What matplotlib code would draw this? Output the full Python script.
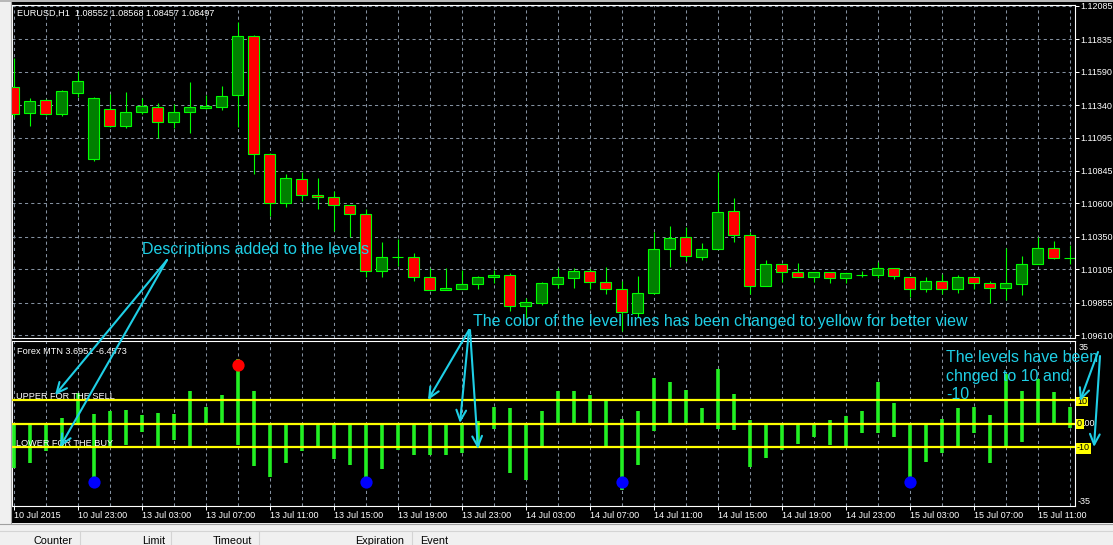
import numpy as np
import pandas as pd
import matplotlib
matplotlib.use('Agg')
import matplotlib.pyplot as plt
from matplotlib.patches import Rectangle, FancyArrowPatch
from matplotlib.lines import Line2D

plt.rcParams['font.family'] = ['Liberation Sans', 'DejaVu Sans']

# ---------------- data ----------------
times = pd.date_range('2015-07-10 19:00', '2015-07-15 13:00', freq='h')
times = times[times.dayofweek < 5]

open_ = [1.11478, 1.11278, 1.11378, 1.11271, 1.11433, 1.10932, 1.11310, 1.11185, 1.11286, 1.11328,
         1.11210, 1.11286, 1.11320, 1.11323, 1.11413, 1.11857, 1.10970, 1.10601, 1.10786, 1.10662,
         1.10646, 1.10586, 1.10519, 1.10090, 1.10195, 1.10195, 1.10045, 1.09947, 1.09959, 1.09992,
         1.10045, 1.10060, 1.09827, 1.09852, 1.09997, 1.10042, 1.10090, 1.10012, 1.09959, 1.09779,
         1.09925, 1.10255, 1.10346, 1.10200, 1.10255, 1.10541, 1.10361, 1.09977, 1.10143, 1.10087,
         1.10045, 1.10082, 1.10037, 1.10064, 1.10060, 1.10115, 1.10045, 1.09955, 1.10015, 1.09955,
         1.10045, 1.10000, 1.09962, 1.09997, 1.10143, 1.10263, 1.10188]
high_ = [1.11694, 1.11393, 1.11386, 1.11453, 1.11598, 1.11398, 1.11421, 1.11438, 1.11393, 1.11353,
         1.11346, 1.11514, 1.11416, 1.11483, 1.11962, 1.11869, 1.10982, 1.10822, 1.10837, 1.10789,
         1.10696, 1.10586, 1.10558, 1.10310, 1.10335, 1.10225, 1.10115, 1.10115, 1.10100, 1.10057,
         1.10100, 1.10079, 1.09891, 1.10007, 1.10115, 1.10115, 1.10105, 1.10122, 1.10019, 1.10055,
         1.10383, 1.10431, 1.10425, 1.10301, 1.10839, 1.10641, 1.10383, 1.10175, 1.10143, 1.10152,
         1.10082, 1.10082, 1.10075, 1.10095, 1.10160, 1.10115, 1.10045, 1.10049, 1.10070, 1.10064,
         1.10045, 1.10019, 1.10265, 1.10205, 1.10346, 1.10318, 1.10288]
low_ = [1.11250, 1.11185, 1.11265, 1.11260, 1.11403, 1.10922, 1.11177, 1.11170, 1.11271, 1.11090,
        1.11170, 1.11132, 1.11310, 1.11303, 1.11177, 1.10819, 1.10506, 1.10571, 1.10619, 1.10561,
        1.10395, 1.10346, 1.10049, 1.10049, 1.10130, 1.10019, 1.09947, 1.09947, 1.09955, 1.09959,
        1.10004, 1.09794, 1.09739, 1.09839, 1.09962, 1.09967, 1.09959, 1.09917, 1.09643, 1.09748,
        1.09917, 1.10125, 1.10170, 1.10175, 1.10255, 1.10310, 1.09917, 1.09977, 1.10007, 1.10045,
        1.10007, 1.10004, 1.10004, 1.10049, 1.10042, 1.10032, 1.09899, 1.09937, 1.09917, 1.09929,
        1.09955, 1.09854, 1.09874, 1.09912, 1.10143, 1.10180, 1.10143]
close_ = [1.11271, 1.11368, 1.11271, 1.11446, 1.11521, 1.11391, 1.11185, 1.11286, 1.11335, 1.11210,
          1.11286, 1.11323, 1.11333, 1.11410, 1.11857, 1.10970, 1.10601, 1.10789, 1.10662, 1.10646,
          1.10586, 1.10519, 1.10090, 1.10195, 1.10195, 1.10045, 1.09947, 1.09962, 1.09992, 1.10045,
          1.10060, 1.09827, 1.09857, 1.10000, 1.10045, 1.10090, 1.10012, 1.09955, 1.09782, 1.09925,
          1.10255, 1.10338, 1.10203, 1.10255, 1.10534, 1.10361, 1.09977, 1.10143, 1.10087, 1.10045,
          1.10082, 1.10037, 1.10075, 1.10064, 1.10115, 1.10052, 1.09955, 1.10015, 1.09955, 1.10045,
          1.10000, 1.09962, 1.10000, 1.10143, 1.10263, 1.10188, 1.10188]

hist_top = [0, 0, 0, 2.4, 13.0, 4.2, 5.1, 5.9, 3.7, 4.5,
            4.2, 14.0, 7.2, 11.9, 27.4, 14.0, 0, 0, 0, 0,
            0, 0, 0, 0, 0, 0, 0, 0, 0, 1.0,
            7.2, 6.4, 0, 5.5, 13.6, 13.6, 12.3, 10.6, 1.7, 5.5,
            19.5, 17.4, 14.4, 6.4, 23.3, 12.7, 1.3, 0, 0, 0,
            0, 1.3, 3.0, 5.5, 17.4, 8.9, 0, 0, 1.7, 6.4,
            7.2, 3.8, 21.2, 13.6, 18.7, 13.2, 6.8]
hist_bottom = [-18.8, -16.8, -11.7, -10.0, 0, -25.0, -10.0, -9.3, -3.4, -9.9,
               -7.1, -9.9, 0, -0.8, -9.3, -18.2, -22.8, -16.8, -11.5, -9.9,
               -15.1, -17.8, -26.0, -19.4, -11.3, -13.4, -13.4, -13.4, -12.6, -9.6,
               -2.5, -21.1, -24.0, -9.9, 0, 0, 0, -9.9, -28.3, -17.7,
               -3.3, 0, 0, 0, -2.5, -2.8, -18.5, -14.7, -11.3, -8.9,
               -5.9, -9.3, -9.9, -4.2, -4.2, -5.9, -24.0, -16.4, -12.6, -9.9,
               -4.2, -16.8, -9.9, -7.9, 0, 0, -1.7]

buy_idx = [5, 22, 38, 56]
buy_val = [-24.9, -24.9, -24.9, -24.9]
sell_idx = [14]
sell_val = [24.8]

levels = [10, 0, -10]
price_ticks = [1.12085, 1.11835, 1.11590, 1.11340, 1.11095, 1.10845,
               1.10600, 1.10350, 1.10105, 1.09855, 1.09610]
ind_limits = (-35, 35)

header_text = 'EURUSD,H1  1.08552 1.08568 1.08457 1.08497'
ind_title = 'Forex MTN 3.6951 -6.4573'

# ---------------- styles ----------------
W, H = 1113, 545
LIME = '#00ff00'
BULL = '#008000'
BEAR = '#ff0000'
HIST = '#22f022'
YEL = '#ffff00'
GRID = '#8491a0'
CYAN = '#1fcfe6'
SMALL = 6.5


def F(px, py):
    return (px / W, 1 - py / H)


def rect_axes(l, t, r, b):
    return [l / W, 1 - b / H, (r - l) / W, (b - t) / H]


fig = plt.figure(figsize=(W / 100, H / 100), dpi=100, facecolor='black')
ax = fig.add_axes(rect_axes(12, 5, 1075, 338))
ax2 = fig.add_axes(rect_axes(12, 341, 1075, 506))

x = np.arange(len(open_))
o = np.array(open_); h = np.array(high_); l = np.array(low_); c = np.array(close_)

for a in (ax, ax2):
    a.set_facecolor('black')
    a.set_xlim(-0.1, 66.34)
    for s in a.spines.values():
        s.set_color('white')
        s.set_linewidth(0.8)

# ---- main candles ----
ax.set_ylim(1.095884, 1.120925)
ax.vlines(x, l, h, color=LIME, lw=0.8, zorder=2)
fills = np.where(c > o, BULL, np.where(c < o, BEAR, 'black'))
ax.bar(x, np.abs(c - o), bottom=np.minimum(o, c), width=0.64, color=fills,
       edgecolor=LIME, linewidth=0.8, zorder=3)

ax.set_xticks(x[::2])
ax.tick_params(axis='x', length=0, labelbottom=False)
ax.yaxis.tick_right()
ax.set_yticks(price_ticks)
ax.set_yticklabels([f'{p:.5f}' for p in price_ticks])
ax.tick_params(axis='y', direction='out', length=2.9, width=0.72, color='white',
               labelcolor='white', labelsize=SMALL, pad=1.2)
ax.grid(True, color=GRID, lw=0.75, linestyle=(0, (3, 3)), zorder=1)
ax.set_axisbelow(True)

# ---- indicator ----
ax2.set_ylim(*ind_limits)
ax2.vlines(x, hist_bottom, hist_top, color=HIST, lw=2.6, zorder=3)
for lv in levels:
    ax2.axhline(lv, color=YEL, lw=1.6, zorder=4)
ax2.plot(buy_idx, buy_val, 'o', color='#0000ff', ms=8.8, mec='none', zorder=5)
ax2.plot(sell_idx, sell_val, 'o', color='#ff0000', ms=8.8, mec='none', zorder=5)

ax2.set_yticks([])
ax2.set_xticks(x[::4])
ax2.set_xticks(x[2::4], minor=True)
labels = [times[0].strftime('%d %b %Y')] + [t.strftime('%d %b %H:%M') for t in times[4::4]]
ax2.set_xticklabels(labels)
for lab in ax2.get_xticklabels():
    lab.set_horizontalalignment('left')
ax2.tick_params(axis='x', which='major', direction='out', length=2.9, width=0.72,
                color='white', labelcolor='white', labelsize=SMALL, pad=1.0)
ax2.tick_params(axis='x', which='minor', length=0)
ax2.grid(True, which='both', axis='x', color=GRID, lw=0.75, linestyle=(0, (3, 3)))
ax2.set_axisbelow(True)

# ---- small texts ----
fig.text(*F(17, 15.7), header_text, color='white', fontsize=6.6, va='baseline')
fig.text(*F(17, 354), ind_title, color='white', fontsize=6.6, va='baseline')
fig.text(*F(15.5, 399), 'UPPER FOR THE SELL', color='white', fontsize=6.6, va='baseline')
fig.text(*F(15.5, 446), 'LOWER FOR THE BUY', color='white', fontsize=6.6, va='baseline')
fig.text(*F(1079, 347.5), '35', color='white', fontsize=SMALL, va='center')
fig.text(*F(1078, 501), '-35', color='white', fontsize=SMALL, va='center')

# level value labels
fig.add_artist(Rectangle(F(1076, 405.5), 12 / W, 9 / H, transform=fig.transFigure,
                         facecolor=YEL, edgecolor='none', zorder=5))
fig.text(*F(1077, 401), '10', color='black', fontsize=SMALL, va='center', zorder=6)
fig.add_artist(Rectangle(F(1076, 428.5), 7.5 / W, 10 / H, transform=fig.transFigure,
                         facecolor=YEL, edgecolor='none', zorder=5))
fig.text(*F(1077, 424), '0', color='black', fontsize=SMALL, va='center', zorder=6)
fig.text(*F(1082.5, 424), '.00', color='white', fontsize=SMALL, va='center', zorder=6)
fig.add_artist(Rectangle(F(1076, 453.5), 15 / W, 11 / H, transform=fig.transFigure,
                         facecolor=YEL, edgecolor='none', zorder=5))
fig.text(*F(1077, 448), '-10', color='black', fontsize=SMALL, va='center', zorder=6)

# ---- cyan annotations ----
fig.text(*F(142, 254), 'Descriptions added to the levels', color=CYAN, fontsize=11.5,
         va='baseline', zorder=8)
fig.text(*F(473, 326), 'The color of the level lines has been changed to yellow for better view',
         color=CYAN, fontsize=11.5, va='baseline', zorder=8)
fig.text(*F(946, 362), 'The levels have been', color=CYAN, fontsize=11.5, va='baseline', zorder=8)
fig.text(*F(946, 380.5), 'chnged to 10 and', color=CYAN, fontsize=11.5, va='baseline', zorder=8)
fig.text(*F(946, 399), '-10', color=CYAN, fontsize=11.5, va='baseline', zorder=8)

arrows = [((167, 260), (55, 395)), ((167, 260), (60, 447)),
          ((469, 330), (428, 400)), ((469, 330), (460, 423)), ((470, 330), (478, 449)),
          ((1098, 352), (1080, 401)), ((1100, 356), (1094, 447))]
for (p0, p1) in arrows:
    fig.add_artist(FancyArrowPatch(F(*p0), F(*p1), transform=fig.transFigure,
                                   arrowstyle='->,head_length=0.75,head_width=0.35',
                                   mutation_scale=10, color=CYAN, lw=1.5,
                                   shrinkA=0, shrinkB=0, zorder=9))

# ---- window chrome ----
fig.add_artist(Rectangle(F(0, 2), 1, 2 / H, transform=fig.transFigure,
                         facecolor='#b8b8b8', edgecolor='none', zorder=1))
fig.add_artist(Rectangle(F(0, 523), 10.5 / W, 521 / H, transform=fig.transFigure,
                         facecolor='#f0f0f0', edgecolor='none', zorder=1))
fig.add_artist(Line2D([10.5 / W, 10.5 / W], [1 - 2 / H, 1 - 523 / H], transform=fig.transFigure,
                      color='#a0a0a0', lw=0.8, zorder=2))
fig.add_artist(Rectangle(F(0, 545), 1, 22 / H, transform=fig.transFigure,
                         facecolor='#f0f0f0', edgecolor='none', zorder=1))
fig.add_artist(Line2D([0, 1], [1 - 523.5 / H] * 2, transform=fig.transFigure,
                      color='#a0a0a0', lw=0.8, zorder=2))
fig.add_artist(Line2D([0, 1], [1 - 530.5 / H] * 2, transform=fig.transFigure,
                      color='#d4d4d4', lw=0.8, zorder=2))
for sx in [80, 171, 259, 412]:
    fig.add_artist(Line2D([sx / W] * 2, [1 - 531 / H, 0], transform=fig.transFigure,
                          color='#d4d4d4', lw=0.8, zorder=2))
for tx, s in [(34, 'Counter'), (142, 'Limit'), (213, 'Timeout'), (355, 'Expiration'), (420, 'Event')]:
    fig.text(*F(tx, 535.5), s, color='black', fontsize=7.8, va='top', zorder=3)

fig.savefig('out.png', dpi=100, facecolor='black')
